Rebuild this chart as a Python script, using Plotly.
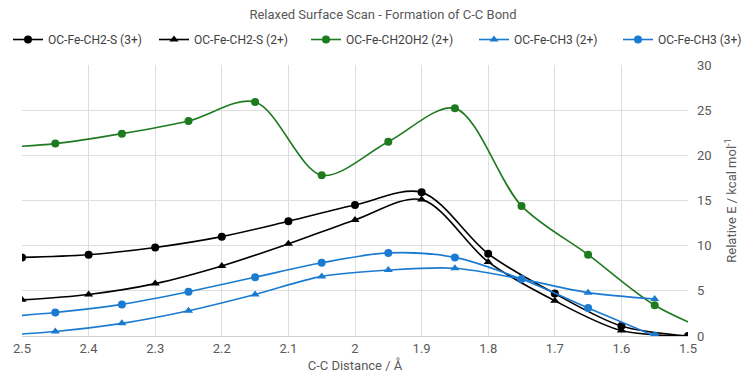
import plotly.graph_objects as go

# Black series: every 0.1 Å from 2.5 to 1.5
x_black = [2.5, 2.4, 2.3, 2.2, 2.1, 2.0, 1.9, 1.8, 1.7, 1.6, 1.5]
y_s3 = [8.7, 9.0, 9.8, 11.0, 12.7, 14.5, 15.9, 9.1, 4.7, 1.1, 0.0]
y_s2 = [4.0, 4.6, 5.8, 7.75, 10.2, 12.85, 15.1, 8.2, 3.9, 0.6, 0.0]

# Green series: half-step grid (ends outside the axis range are clipped)
x_green = [2.55, 2.45, 2.35, 2.25, 2.15, 2.05, 1.95, 1.85, 1.75, 1.65, 1.55, 1.45]
y_oh2 = [20.8, 21.3, 22.4, 23.8, 25.9, 17.8, 21.5, 25.2, 14.4, 9.0, 3.4, 0.0]

# Blue series
x_blue = [2.55, 2.45, 2.35, 2.25, 2.15, 2.05, 1.95, 1.85, 1.75, 1.65, 1.55]
y_ch3_2 = [0.0, 0.5, 1.4, 2.8, 4.6, 6.6, 7.3, 7.5, 6.3, 4.8, 4.1]
y_ch3_3 = [2.0, 2.6, 3.5, 4.9, 6.5, 8.1, 9.2, 8.7, 6.3, 3.1, 0.0]

names = ["OC-Fe-CH2-S (3+)", "OC-Fe-CH2-S (2+)", "OC-Fe-CH2OH2 (2+)",
         "OC-Fe-CH3 (2+)", "OC-Fe-CH3 (3+)"]

BLACK = "#000000"
GREEN = "#1e7a1e"
BLUE = "#1b7bd0"
FONT = "Roboto, sans-serif"

series = [
    (x_black, y_s3, names[0], BLACK, "circle"),
    (x_black, y_s2, names[1], BLACK, "triangle-up"),
    (x_green, y_oh2, names[2], GREEN, "circle"),
    (x_blue, y_ch3_2, names[3], BLUE, "triangle-up"),
    (x_blue, y_ch3_3, names[4], BLUE, "circle"),
]

legend_ids = ["legend", "legend2", "legend3", "legend4", "legend5"]
legend_px = [-4, 146, 298, 466, 610]

fig = go.Figure()
for (xs, ys, nm, col, sym), lid in zip(series, legend_ids):
    fig.add_trace(go.Scatter(
        x=xs, y=ys, name=nm, mode="lines+markers", legend=lid,
        line=dict(color=col, width=1.6, shape="spline", smoothing=0.9),
        marker=dict(color=col, symbol=sym, size=8),
    ))

legend_layout = {}
for lid, px in zip(legend_ids, legend_px):
    legend_layout[lid] = dict(
        orientation="h", x=px / 750, xref="container", xanchor="left",
        y=0.955, yref="container", yanchor="top",
        font=dict(size=12, color="#404040"), itemwidth=30,
        bgcolor="rgba(0,0,0,0)",
    )

fig.update_layout(
    width=750, height=378,
    margin=dict(l=14, r=70, t=57, b=50, autoexpand=False),
    paper_bgcolor="white", plot_bgcolor="white",
    font=dict(family=FONT, size=13, color="#595959"),
    title=dict(text="Relaxed Surface Scan - Formation of C-C Bond",
               x=0.5, xanchor="center", y=0.995, yanchor="top",
               font=dict(size=13, color="#595959")),
    showlegend=True,
    **legend_layout,
)

fig.update_xaxes(
    range=[2.5, 1.5], tickvals=[2.5, 2.4, 2.3, 2.2, 2.1, 2.0, 1.9, 1.8, 1.7, 1.6, 1.5],
    ticktext=["2.5", "2.4", "2.3", "2.2", "2.1", "2", "1.9", "1.8", "1.7", "1.6", "1.5"],
    showgrid=True, gridcolor="#dedede", gridwidth=1,
    zeroline=False, showline=True, linecolor="#d0d0d0",
    ticks="", tickfont=dict(size=13, color="#595959"),
    title=dict(text="C-C Distance / Å", font=dict(size=13, color="#595959"), standoff=6),
)
fig.update_yaxes(
    range=[0, 30], tickvals=[0, 5, 10, 15, 20, 25, 30], side="right",
    showgrid=True, gridcolor="#dedede", gridwidth=1,
    zeroline=False, showline=False, ticks="", ticklabelstandoff=8,
    tickfont=dict(size=13, color="#595959"),
    title=dict(text="Relative E / kcal mol<sup>-1</sup>",
               font=dict(size=13, color="#595959"), standoff=16),
)

fig.write_html("out.html")
